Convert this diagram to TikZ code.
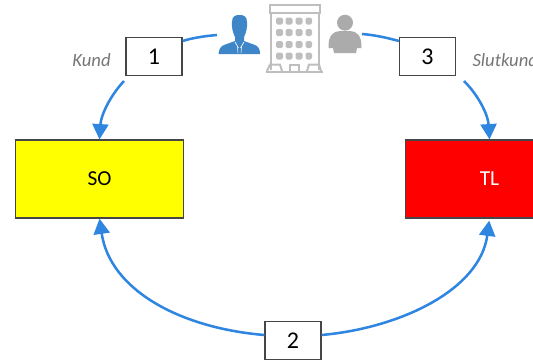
\documentclass[tikz,border=0pt]{standalone}
\usepackage{fontspec}
\setmainfont{Carlito}
\usetikzlibrary{arrows.meta}
\definecolor{flowblue}{RGB}{46,134,224}
\definecolor{manblue}{RGB}{62,134,200}
\definecolor{iconmid}{RGB}{171,171,171}
\definecolor{iconlight}{RGB}{190,190,190}
\definecolor{labelgrey}{RGB}{118,118,118}
\definecolor{boxedge}{RGB}{70,70,70}
\definecolor{partyellow}{RGB}{255,255,0}
\definecolor{partred}{RGB}{255,0,0}
\tikzset{every picture/.style={line width=0.75pt}}
\tikzset{
	flow/.style={draw=flowblue,line width=1.9pt},
	flowtip/.style={flow,-{Triangle[length=11.5pt,width=12pt]}},
	stepbox/.style={draw=boxedge,fill=white,line width=0.9pt,minimum width=42pt,minimum height=29pt,inner sep=0pt,font=\fontsize{18}{20}\selectfont},
	partbox/.style={draw=boxedge,line width=0.9pt,minimum width=126.5pt,minimum height=58.5pt,inner sep=0pt,font=\fontsize{16}{18}\selectfont},
	rolelabel/.style={text=labelgrey,inner sep=0.75pt,font=\fontsize{14}{16}\selectfont\itshape},
	wall/.style={draw=iconlight,line width=1.5pt},
	window/.style={fill=iconlight,rounded corners=1.2pt}
}

\begin{document}
\begin{tikzpicture}[x=0.75pt,y=0.75pt,yscale=-1,xscale=1]
		\useasboundingbox (0,0) rectangle (533,361);
		
		%Parts
		\node (so) [partbox,fill=partyellow] at (99.5,179) {SO};
		\node (tl) [partbox,fill=partred,text=white] at (489.5,179) {TL};
		
		%Steps
		\node (stepa) [stepbox] at (154,56.5) {1};
		\node (stepb) [stepbox] at (293,340.5) {2};
		\node (stepc) [stepbox] at (427.5,56.5) {3};
		
		\node (kund) [rolelabel] at (91.5,60.5) {Kund};
		\node (slutkund) [rolelabel,anchor=west] at (471,60.5) {Slutkund};
		
		%Free ends
		\coordinate (mantail) at (217,35);
		\coordinate (persontail) at (362,34);
		\coordinate (stepatail) at (124,81);
		\coordinate (stepctail) at (464,81);
		
		%Connectors
		\draw [flow] (stepa.north east |- 0,41) .. controls (192,38) and (205,36) .. (mantail);
		\draw [flow] (stepc.north west |- 0,41) .. controls (388,38) and (375,35) .. (persontail);
		\draw [flowtip] (stepatail) .. controls (110,96) and (101,115) .. (so.north);
		\draw [flowtip] (stepctail) .. controls (479,96) and (488,115) .. (tl.north);
		\draw [flowtip] (stepb.west |- 0,335) .. controls (180,328) and (110,290) .. (so.south);
		\draw [flowtip,shorten >=1.5pt] (stepb.east |- 0,335) .. controls (400,328) and (480,290) .. (tl.south);
		
		%Man
		\fill [manblue] (232,22) .. controls (232,16) and (235.5,15) .. (239.5,15) .. controls (243.5,15) and (247,16) .. (247,22) .. controls (247.5,28) and (246,33) .. (244,37) -- (244,41) -- (255,45) .. controls (258.5,46.5) and (260,49) .. (260,54) -- (218.5,54) .. controls (219,49) and (220.5,46.5) .. (224,45) -- (235,41) -- (235,37) .. controls (233,33) and (231.5,28) .. (232,22) -- cycle ;
		\draw [white,line width=0.5pt] (235,42) -- (238.5,48) (244,42) -- (240.5,48) ;
		\draw [white,line width=0.4pt] (237.5,47) -- (238,53) (241.5,47) -- (241,53) ;
		
		%Person
		\fill [iconmid] (345,22.7) circle (8) ;
		\fill [iconmid] (328.5,48) .. controls (328,36) and (333,31) .. (340,31) -- (350,31) .. controls (357,31) and (362,36) .. (361.5,48) -- (357,48) -- (356,53) -- (334,53) -- (333,48) -- cycle ;
		
		%Building
		\draw [wall] (269.5,4.5) rectangle (319.5,12.5) ;
		\draw [wall] (270.5,12.5) -- (270.5,70) ;
		\draw [wall] (318.5,12.5) -- (318.5,70) ;
		\draw [wall] (265.5,71.5) -- (322.5,71.5) ;
		\draw [wall] (290,71.5) -- (290,64.5) -- (299,64.5) -- (299,71.5) ;
		\draw [wall] (267,71) -- (270,64.5) -- (280,64.5) -- (282,71) ;
		\draw [wall] (307,71) -- (309,64.5) -- (319,64.5) -- (321,71) ;
		\fill [window] (276,17.5) rectangle (283,24.5) (285.5,17.5) rectangle (292.5,24.5) (295.5,17.5) rectangle (302.5,24.5) (305.5,17.5) rectangle (312,24.5) ;
		\fill [window] (276,29) rectangle (283,36) (285.5,29) rectangle (292.5,36) (295.5,29) rectangle (302.5,36) (305.5,29) rectangle (312,36) ;
		\fill [window] (276,41) rectangle (283,48) (285.5,41) rectangle (292.5,48) (295.5,41) rectangle (302.5,48) (305.5,41) rectangle (312,48) ;
		\fill [window] (276,52.5) rectangle (283,59.5) (285.5,52.5) rectangle (292.5,59.5) (295.5,52.5) rectangle (302.5,59.5) (305.5,52.5) rectangle (312,59.5) ;
		
	\end{tikzpicture}
\end{document}
